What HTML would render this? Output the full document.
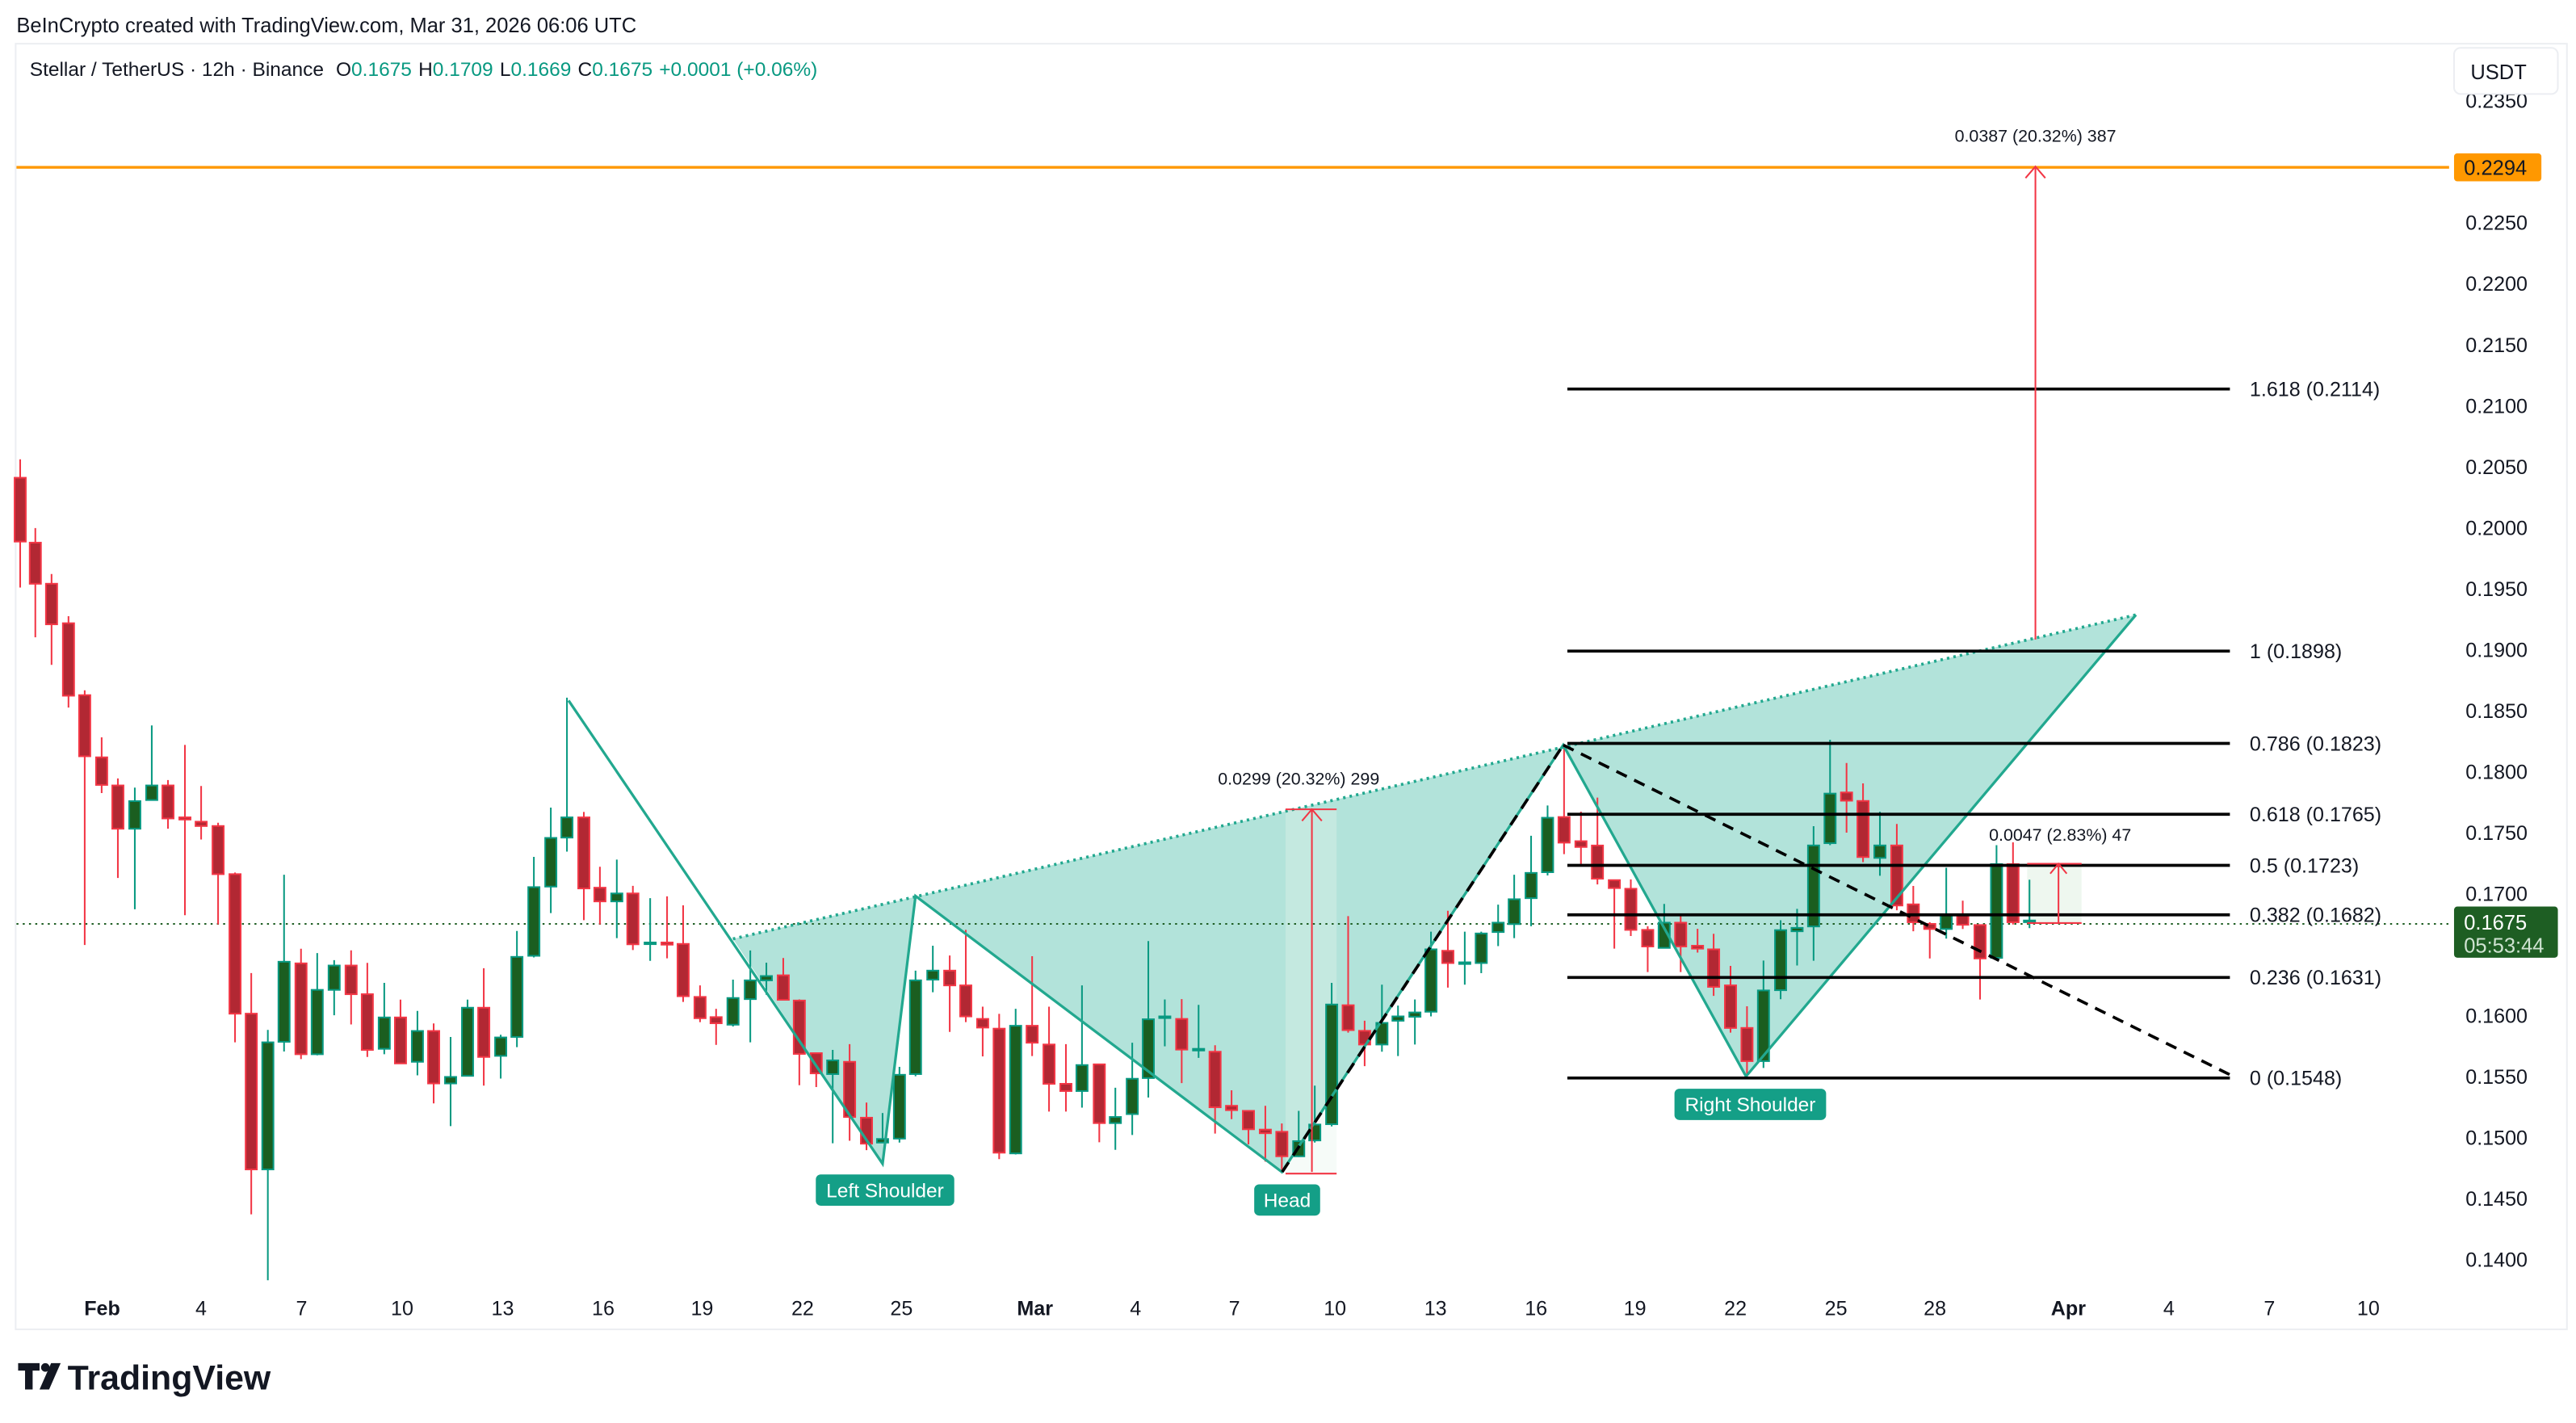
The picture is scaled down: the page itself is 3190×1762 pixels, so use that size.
<!DOCTYPE html>
<html><head><meta charset="utf-8"><style>
html,body{margin:0;padding:0;background:#fff;}
svg{display:block;font-family:"Liberation Sans",sans-serif;}
</style></head><body>
<svg id="s" xmlns="http://www.w3.org/2000/svg" width="3190" height="1762" viewBox="0 0 1563 863.3">
<rect x="0" y="0" width="1563" height="864" fill="#fff"/>
<text x="10" y="19.5" font-size="12.5" fill="#131722">BeInCrypto created with TradingView.com, Mar 31, 2026 06:06 UTC</text>
<rect x="9.5" y="26.5" width="1548" height="780" fill="#fff" stroke="#eceef2" stroke-width="1"/>
<g id="bg"></g>
<g id="candles"></g>
<g id="ov"></g>
<text x="18" y="46" font-size="12" fill="#131722">Stellar / TetherUS · 12h · Binance <tspan dx="4">O</tspan><tspan fill="#089981">0.1675</tspan><tspan dx="4">H</tspan><tspan fill="#089981">0.1709</tspan><tspan dx="4">L</tspan><tspan fill="#089981">0.1669</tspan><tspan dx="4">C</tspan><tspan fill="#089981">0.1675</tspan><tspan dx="4" fill="#089981">+0.0001 (+0.06%)</tspan></text>
<g id="axis"></g>
<rect x="1489" y="29" width="63" height="28" rx="4" fill="#fff" stroke="#eceef2"/>
<text x="1499" y="48" font-size="12.5" fill="#131722">USDT</text>
<rect x="1489" y="93" width="53" height="17" rx="2" fill="#ff9800"/>
<text x="1495" y="106" font-size="12.5" fill="#131722">0.2294</text>
<rect x="1489" y="550" width="63" height="31" rx="2" fill="#1e5e23"/>
<text x="1495" y="564" font-size="12.5" fill="#fff">0.1675</text>
<text x="1495" y="578" font-size="12.5" fill="#cfe3d1">05:53:44</text>
<g transform="translate(11,827)">
<path d="M0 0h13v4.5h-4.2v11.5h-4.6v-11.5h-4.2z" fill="#131722"/>
<circle cx="16.5" cy="2.6" r="2.6" fill="#131722"/>
<path d="M20 0h5.8l-7 16h-5.8z" fill="#131722"/>
<text x="30" y="16" font-size="21" font-weight="bold" fill="#131722">TradingView</text>
</g>
</svg>
<script>
const NS="http://www.w3.org/2000/svg";
function el(p,t,a,txt){const e=document.createElementNS(NS,t);for(const k in a)e.setAttribute(k,a[k]);if(txt!==undefined)e.textContent=txt;document.getElementById(p).appendChild(e);return e;}
const Z4=[[56,62,180,28,265,'r'],[98,182,258,155,357,'r'],[143,258,333,240,408,'r'],[190,331,465,318,487,'r'],[235,464,577,455,926,'r'],[282,579,630,542,645,'r'],[327,631,711,618,802,'r'],[374,660,711,635,860,'g'],[421,631,658,520,658,'g'],[466,631,692,621,711,'r'],[513,690,694,556,871,'r'],[558,698,706,632,731,'r'],[605,706,795,700,888,'r'],[652,795,1053,792,1106,'r'],[697,1053,1341,978,1424,'r'],[743,1106,1341,1083,1546,'g'],[788,957,1105,796,1123,'g'],[835,960,1128,933,1137,'r'],[880,1009,1128,941,1130,'g'],[927,964,1009,954,1056,'g'],[974,964,1017,936,1073,'r'],[1019,1017,1120,959,1133,'r'],[1066,1060,1118,996,1128,'g'],[1111,1060,1145,1027,1145,'r'],[1158,1085,1142,1048,1167,'g'],[1203,1085,1182,1071,1219,'r'],[1250,1170,1182,1096,1261,'g'],[1297,1042,1168,1027,1168,'g'],[1342,1042,1133,969,1186,'r'],[1389,1097,1131,1092,1173,'g'],[1434,948,1096,900,1115,'g'],[1481,819,946,763,949,'g'],[1528,728,818,672,867,'g']];
const Z5=[[102,475,531,143,570,'g'],[143,475,672,460,760,'r'],[182,670,708,612,772,'r'],[223,686,708,592,810,'g'],[262,686,827,665,843,'r'],[304,822,826,699,873,'g'],[345,822,828,694,866,'r'],[384,826,971,719,987,'r'],[425,973,1032,941,1043,'r'],[464,1029,1046,1006,1106,'r'],[505,976,1050,925,1055,'g'],[547,927,979,844,1099,'g'],[586,915,927,878,967,'g'],[627,913,981,865,981,'r'],[666,983,1131,980,1218,'r'],[707,1129,1185,1129,1223,'r'],[747,1149,1187,1120,1379,'g'],[788,1153,1306,1104,1372,'r'],[829,1308,1380,1266,1398,'r'],[868,1367,1377,1295,1377,'g'],[909,1189,1366,1167,1377,'g'],[948,927,1187,900,1193,'g'],[990,900,925,831,960,'g'],[1031,900,941,858,1070,'r'],[1070,941,1027,787,1043,'r'],[1111,1034,1058,1000,1138,'r'],[1151,1061,1405,1020,1423,'r'],[1191,1053,1407,1006,1410,'g'],[1231,1053,1100,860,1137,'r'],[1272,1105,1214,1000,1291,'r'],[1313,1214,1234,1104,1291,'r'],[1352,1162,1234,941,1280,'g'],[1394,1160,1323,1160,1376,'r'],[1433,1306,1323,1225,1397,'g'],[1474,1200,1298,1100,1356,'g'],[1513,1035,1198,818,1252,'g'],[1553,1027,1029,980,1110,'g']];
const Z6=[[124,922,1007,867,1100,'r'],[165,1005,1009,883,1030,'g'],[205,1013,1167,995,1240,'r'],[245,1163,1175,1120,1200,'r'],[286,1177,1228,1175,1270,'r'],[327,1229,1239,1163,1318,'r'],[367,1235,1303,1212,1345,'r'],[408,1261,1303,1177,1305,'g'],[447,1215,1259,1107,1265,'g'],[488,882,1214,822,1220,'g'],[528,884,953,637,960,'r'],[568,955,993,927,1053,'r'],[610,933,993,827,1013,'g'],[649,915,927,885,1025,'g'],[690,904,916,868,993,'g'],[729,729,902,680,915,'g'],[770,733,767,622,835,'r'],[811,765,767,680,827,'g'],[851,685,767,680,795,'g'],[892,655,681,605,720,'g'],[931,590,659,522,698,'g'],[972,517,587,414,665,'g'],[1012,364,515,330,524,'g'],[1052,362,433,170,465,'r'],[1093,429,445,347,493,'r'],[1133,441,533,308,549,'r'],[1174,537,559,537,727,'r'],[1214,561,675,535,692,'r'],[1255,675,721,665,792,'r'],[1295,655,725,603,725,'g'],[1335,655,721,637,792,'r'],[1376,719,727,672,738,'r'],[1415,729,833,686,858,'r'],[1456,829,947,775,960,'r'],[1496,947,1039,887,1075,'r'],[1536,843,1039,760,1058,'g']];
const Z7=[[696,860,1072,825,1104,'g'],[736,852,864,785,985,'g'],[776,561,847,493,968,'g'],[816,378,553,188,560,'g'],[856,374,403,270,516,'r'],[896,404,602,342,620,'r'],[937,561,605,442,668,'g'],[978,561,773,485,790,'r'],[1018,769,832,704,864,'r'],[1058,838,856,832,960,'r'],[1098,808,856,640,890,'g'],[1138,808,841,756,856,'r'],[1180,842,960,842,1105,'r'],[1220,627,958,560,960,'g'],[1260,627,832,550,840,'r'],[1300,826,829,682,853,'g']];
const segs=[[Z4,x=>x/4.572,y=>269.5+y/3.048],[Z5,x=>318.5+x/4,y=>392+y/4.572],[Z6,x=>686+x/4,y=>416.5+y/4.572],[Z7,x=>906.4+x/4,y=>416.5+y/5.819]];
el('bg','polygon',{points:"444.7,569.6 535.5,706 555.5,543.6 777.8,711 948.5,452 1059.4,653 1296,373",fill:"#b2e3da"});
el('bg','rect',{x:780,y:491,width:31,height:221,fill:"#e6f4ea",opacity:0.35});
el('bg','rect',{x:1230,y:524,width:33,height:36,fill:"#eef7ef"});
el('bg','line',{x1:10,y1:560.5,x2:1486,y2:560.5,stroke:"#1e5e23","stroke-width":1,"stroke-dasharray":"1.2 2.6"});
for(const [d,fx,fy] of segs){for(const c of d){const x=fx(c[0]);const t=fy(c[1]),b=fy(c[2]),wt=fy(c[3]),wb=fy(c[4]);const g=c[5]==='g';
el('candles','line',{x1:x,y1:wt,x2:x,y2:wb,stroke:g?"#089981":"#f23645","stroke-width":1});
el('candles','rect',{x:x-3.4,y:t,width:6.8,height:Math.max(b-t,1),fill:g?"#1b5e20":"#b22833",stroke:g?"#089981":"#f23645","stroke-width":1});}}
el('ov','line',{x1:10,y1:101.5,x2:1486,y2:101.5,stroke:"#ff9800","stroke-width":1.6});
el('ov','line',{x1:444.7,y1:569.6,x2:1296,y2:373,stroke:"#22a88f","stroke-width":1.8,"stroke-dasharray":"1.5 2.5"});
el('ov','polyline',{points:"345,425 535.5,706 555.5,543.6 777.8,711 948.5,452 1059.4,653 1296,373",fill:"none",stroke:"#22a88f","stroke-width":1.6});
el('ov','line',{x1:778,y1:711,x2:948.5,y2:452,stroke:"#000","stroke-width":1.8,"stroke-dasharray":"7 5"});
el('ov','line',{x1:948.5,y1:452,x2:1353,y2:652,stroke:"#000","stroke-width":1.8,"stroke-dasharray":"7 5"});
const fib=[[236,"1.618 (0.2114)"],[395,"1 (0.1898)"],[451,"0.786 (0.1823)"],[494,"0.618 (0.1765)"],[525,"0.5 (0.1723)"],[555,"0.382 (0.1682)"],[593,"0.236 (0.1631)"],[654,"0 (0.1548)"]];
for(const [y,t] of fib){el('ov','line',{x1:951,y1:y,x2:1353,y2:y,stroke:"#000","stroke-width":1.8});el('ov','text',{x:1365,y:y+4.3,"font-size":12.3,fill:"#131722"},t);}
const red="#f23645";
el('ov','line',{x1:796,y1:711,x2:796,y2:491,stroke:red,"stroke-width":1});
el('ov','polyline',{points:"790,498 796,491 802,498",fill:"none",stroke:red,"stroke-width":1});
el('ov','line',{x1:780,y1:491,x2:811,y2:491,stroke:red,"stroke-width":1});
el('ov','line',{x1:780,y1:712,x2:811,y2:712,stroke:red,"stroke-width":1});
el('ov','text',{x:788,y:476,"font-size":10.5,fill:"#131722","text-anchor":"middle"},"0.0299 (20.32%) 299");
el('ov','line',{x1:1235,y1:388,x2:1235,y2:101,stroke:red,"stroke-width":1});
el('ov','polyline',{points:"1229,108 1235,101 1241,108",fill:"none",stroke:red,"stroke-width":1});
el('ov','text',{x:1235,y:86,"font-size":10.5,fill:"#131722","text-anchor":"middle"},"0.0387 (20.32%) 387");
el('ov','line',{x1:1249,y1:560,x2:1249,y2:524,stroke:red,"stroke-width":1});
el('ov','polyline',{points:"1244,530 1249,524 1254,530",fill:"none",stroke:red,"stroke-width":1});
el('ov','line',{x1:1230,y1:524,x2:1263,y2:524,stroke:red,"stroke-width":1});
el('ov','line',{x1:1230,y1:560,x2:1263,y2:560,stroke:red,"stroke-width":1});
el('ov','text',{x:1250,y:510,"font-size":10.5,fill:"#131722","text-anchor":"middle"},"0.0047 (2.83%) 47");
for(const [cx,cy,w,t] of [[537,722,84,"Left Shoulder"],[781,728,40,"Head"],[1062,670,92,"Right Shoulder"]]){
el('ov','rect',{x:cx-w/2,y:cy-9.5,width:w,height:19,rx:3,fill:"#149f87"});
el('ov','text',{x:cx,y:cy+4.3,"font-size":12,fill:"#fff","text-anchor":"middle"},t);}
for(let i=0;i<=19;i++){const p=0.2350-i*0.005;const y=135+(0.2250-p)*7400;if(Math.abs(p-0.23)<1e-6||Math.abs(p-0.165)<1e-6)continue;
el('axis','text',{x:1496,y:y+4.5,"font-size":12.3,fill:"#131722"},p.toFixed(4));}
const dates=[[62,"Feb",1],[122,"4"],[183,"7"],[244,"10"],[305,"13"],[366,"16"],[426,"19"],[487,"22"],[547,"25"],[628,"Mar",1],[689,"4"],[749,"7"],[810,"10"],[871,"13"],[932,"16"],[992,"19"],[1053,"22"],[1114,"25"],[1174,"28"],[1255,"Apr",1],[1316,"4"],[1377,"7"],[1437,"10"]];
for(const [x,t,b] of dates){const a={x:x,y:798,"font-size":12.3,fill:"#131722","text-anchor":"middle"};if(b)a["font-weight"]="bold";el('axis','text',a,t);}
</script>
</body></html>
